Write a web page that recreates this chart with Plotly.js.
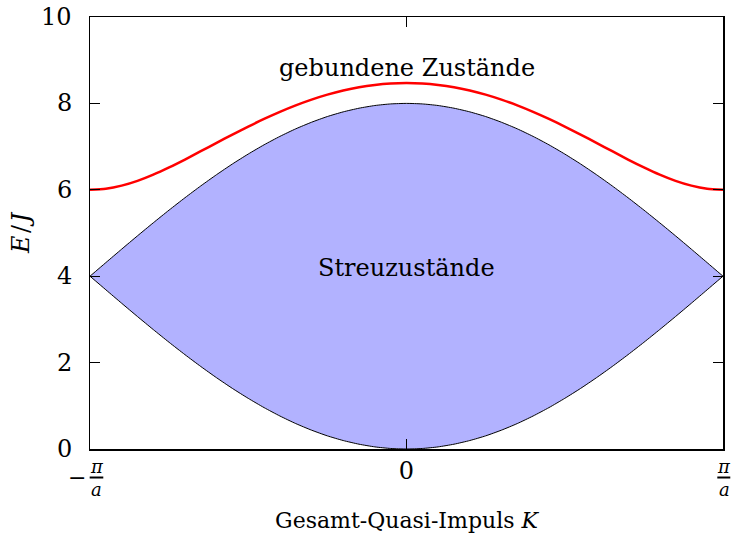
<!DOCTYPE html>
<html>
<head>
<meta charset="utf-8">
<script src="https://cdn.plot.ly/plotly-3.0.1.min.js"></script>
<style>
  html, body { margin: 0; padding: 0; background: #fff; }
  #plot { width: 731px; height: 538px; }
</style>
</head>
<body>
<div id="plot"></div>
<script>
// Total quasi-momentum K in units of pi/a
const momentum = [-1.00, -0.95, -0.90, -0.85, -0.80, -0.75, -0.70, -0.65, -0.60, -0.55, -0.50,
                  -0.45, -0.40, -0.35, -0.30, -0.25, -0.20, -0.15, -0.10, -0.05, 0.00,
                   0.05, 0.10, 0.15, 0.20, 0.25, 0.30, 0.35, 0.40, 0.45, 0.50,
                   0.55, 0.60, 0.65, 0.70, 0.75, 0.80, 0.85, 0.90, 0.95, 1.00];

// Lower edge of the scattering continuum (E/J)
const bandLower = [4.000, 3.686, 3.374, 3.066, 2.764, 2.469, 2.184, 1.910, 1.649, 1.402, 1.172,
                   0.958, 0.764, 0.589, 0.436, 0.304, 0.196, 0.111, 0.049, 0.012, 0.000,
                   0.012, 0.049, 0.111, 0.196, 0.304, 0.436, 0.589, 0.764, 0.958, 1.172,
                   1.402, 1.649, 1.910, 2.184, 2.469, 2.764, 3.066, 3.374, 3.686, 4.000];

// Upper edge of the scattering continuum (E/J)
const bandUpper = [4.000, 4.314, 4.626, 4.934, 5.236, 5.531, 5.816, 6.090, 6.351, 6.598, 6.828,
                   7.042, 7.236, 7.411, 7.564, 7.696, 7.804, 7.889, 7.951, 7.988, 8.000,
                   7.988, 7.951, 7.889, 7.804, 7.696, 7.564, 7.411, 7.236, 7.042, 6.828,
                   6.598, 6.351, 6.090, 5.816, 5.531, 5.236, 4.934, 4.626, 4.314, 4.000];

// Bound-state branch (E/J)
const boundState = [6.000, 6.024, 6.096, 6.207, 6.351, 6.519, 6.701, 6.893, 7.087, 7.278, 7.464,
                    7.640, 7.804, 7.954, 8.087, 8.202, 8.298, 8.374, 8.428, 8.461, 8.472,
                    8.461, 8.428, 8.374, 8.298, 8.202, 8.087, 7.954, 7.804, 7.640, 7.464,
                    7.278, 7.087, 6.893, 6.701, 6.519, 6.351, 6.207, 6.096, 6.024, 6.000];

const yTicks = [0, 2, 4, 6, 8, 10];
const yTickLabels = ['0', '2', '4', '6', '8', '10'];
const xTicks = [-1, 0, 1];
const xTickText = ['', '0', ''];

const FONT = 'DejaVu Serif, serif';
const FS = 24;
const FRAC_FS = 18;

const traces = [
  {
    x: momentum, y: bandLower, type: 'scatter', mode: 'lines',
    line: { color: '#000', width: 1, shape: 'spline', smoothing: 0.6 },
    hoverinfo: 'skip', showlegend: false
  },
  {
    x: momentum, y: bandUpper, type: 'scatter', mode: 'lines',
    fill: 'tonexty', fillcolor: 'rgb(178,178,255)',
    line: { color: '#000', width: 1, shape: 'spline', smoothing: 0.6 },
    hoverinfo: 'skip', showlegend: false
  },
  {
    x: momentum, y: boundState, type: 'scatter', mode: 'lines',
    line: { color: '#ff0000', width: 2.5, shape: 'spline', smoothing: 0.6 },
    hoverinfo: 'skip', showlegend: false
  }
];

const baseFont = { family: FONT, size: FS, color: '#000' };

// stacked fraction labels (pi over a) for the zone boundaries
function fracLabel(xc, prefix) {
  const ann = [
    { text: '<i>π</i>', x: xc, y: -0.041 },
    { text: '<i>a</i>', x: xc, y: -0.093 }
  ];
  if (prefix) ann.push({ text: '−', x: xc - 0.031, y: -0.066, font: { family: FONT, size: 22, color: '#000' } });
  return ann.map(a => Object.assign({
    xref: 'paper', yref: 'paper', xanchor: 'center', yanchor: 'middle',
    showarrow: false, font: { family: FONT, size: FRAC_FS, color: '#000' }
  }, a));
}

// y tick labels, set a little further from the frame
const yLabelAnns = yTicks.map((v, i) => ({
  text: yTickLabels[i], x: -0.026, y: v, xref: 'paper', yref: 'y',
  xanchor: 'right', yanchor: 'middle', showarrow: false, font: baseFont
}));

const layout = {
  width: 731, height: 538,
  margin: { l: 90, r: 8, t: 17, b: 89 },
  paper_bgcolor: '#fff', plot_bgcolor: '#fff',
  font: baseFont,
  xaxis: {
    range: [-1, 1], tickvals: xTicks, ticktext: xTickText,
    ticks: 'inside', ticklen: 10, tickwidth: 1, tickcolor: '#000',
    showline: true, linecolor: '#000', linewidth: 1.5, mirror: 'ticks',
    showgrid: false, zeroline: false, fixedrange: true,
    tickfont: { family: FONT, size: FS },
    title: { text: 'Gesamt-Quasi-Impuls <i>K</i>', font: { family: FONT, size: 22 }, standoff: 28 }
  },
  yaxis: {
    range: [0, 10], tickvals: yTicks, showticklabels: false,
    ticks: 'inside', ticklen: 10, tickwidth: 1, tickcolor: '#000',
    showline: true, linecolor: '#000', linewidth: 1.5, mirror: 'ticks',
    showgrid: false, zeroline: false, fixedrange: true
  },
  annotations: [
    { text: 'gebundene Zustände', x: 0, y: 8.82, xref: 'x', yref: 'y', showarrow: false, font: baseFont },
    { text: 'Streuzustände', x: 0, y: 4.19, xref: 'x', yref: 'y', showarrow: false, font: baseFont },
    { text: '<i>E</i>\u200a/\u200a<i>J</i>', x: -0.109, y: 0.5, xref: 'paper', yref: 'paper',
      xanchor: 'center', yanchor: 'middle', textangle: -90, showarrow: false, font: baseFont }
  ].concat(yLabelAnns, fracLabel(0.0103, true), fracLabel(1.0016, false)),
  shapes: [
    { type: 'line', xref: 'paper', yref: 'paper', x0: -0.0005, x1: 0.021, y0: -0.066, y1: -0.066,
      line: { color: '#000', width: 2 } },
    { type: 'line', xref: 'paper', yref: 'paper', x0: 0.991, x1: 1.0115, y0: -0.066, y1: -0.066,
      line: { color: '#000', width: 2 } }
  ]
};

Plotly.newPlot('plot', traces, layout, { staticPlot: true, displayModeBar: false });
</script>
</body>
</html>
